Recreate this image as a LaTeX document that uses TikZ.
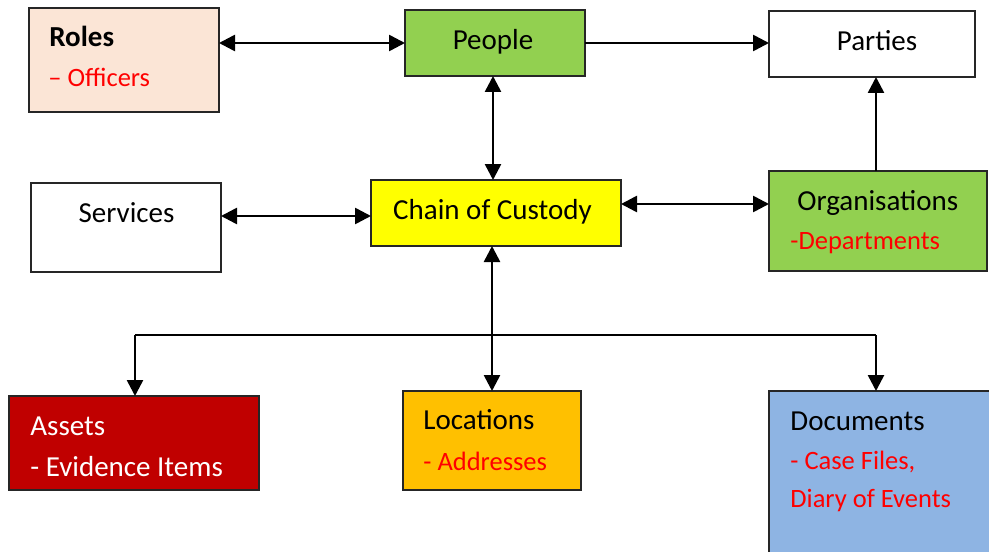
\documentclass[tikz,border=0pt]{standalone}
\usepackage{fontspec}
\setmainfont{Carlito}
\usetikzlibrary{arrows.meta}
\definecolor{peach}{HTML}{FBE5D6}
\definecolor{lgreen}{HTML}{92D050}
\definecolor{yel}{HTML}{FFFF00}
\definecolor{dred}{HTML}{C00000}
\definecolor{orng}{HTML}{FFC000}
\definecolor{lblue}{HTML}{8EB4E3}
\definecolor{txtred}{HTML}{FF0000}
\tikzset{
  box/.style={draw=black!85, line width=0.75pt, outer sep=0pt, inner sep=0pt},
  lbl/.style={anchor=base west, inner sep=0pt, font=\fontsize{14.5}{17}\selectfont},
  rlbl/.style={anchor=base west, inner sep=0pt, text=txtred, font=\fontsize{13.25}{16}\selectfont},
  clbl/.style={anchor=base, inner sep=0pt, font=\fontsize{14.5}{17}\selectfont},
  conn/.style={line width=1.3pt},
  arr/.style={conn, -{Triangle[length=8pt,width=8pt]}},
  biarr/.style={conn, {Triangle[length=8pt,width=8pt]}-{Triangle[length=8pt,width=8pt]}},
}
\begin{document}
\begin{tikzpicture}[x=0.5pt,y=-0.5pt]
\useasboundingbox (0,0) rectangle (989,551);
\clip (0,0) rectangle (989,551);
% boxes
\node[box, fill=peach, minimum width=95pt, minimum height=52pt] (roles) at (124,60) {};
\node[box, fill=lgreen, minimum width=90pt, minimum height=33pt] (people) at (495,43) {};
\node[box, fill=white, minimum width=103pt, minimum height=33pt] (parties) at (872,44) {};
\node[box, fill=white, minimum width=95pt, minimum height=44.5pt] (services) at (126,227.5) {};
\node[box, fill=yel, minimum width=125pt, minimum height=33pt] (chain) at (496,213) {};
\node[box, fill=lgreen, minimum width=109pt, minimum height=50pt] (orgs) at (878,221) {};
\node[box, fill=dred, minimum width=125pt, minimum height=47pt] (assets) at (134,443) {};
\node[box, fill=orng, minimum width=89pt, minimum height=49.5pt] (locations) at (492,440.5) {};
\node[box, fill=lblue, minimum width=115pt, minimum height=90pt] (documents) at (884,481) {};
% texts
\node[lbl, font=\fontsize{14.5}{17}\selectfont\bfseries] (tRoles) at (49,47) {Roles};
\node[rlbl] (tOfficers) at (48,87) {– Officers};
\node[clbl] (tPeople) at (493,50) {People};
\node[clbl] (tParties) at (877,51) {Parties};
\node[clbl] (tServices) at (126.5,222) {Services};
\node[clbl] (tChain) at (492.5,219) {Chain of Custody};
\node[lbl] (tOrgs) at (797,210) {Organisations};
\node[rlbl] (tDept) at (790,249) {-Departments};
\node[lbl, text=white] (tAssets) at (30,435) {Assets};
\node[lbl, text=white] (tEvid) at (30,476) {- Evidence Items};
\node[lbl] (tLoc) at (423,429) {Locations};
\node[rlbl] (tAddr) at (423,470) {- Addresses};
\node[lbl] (tDocs) at (790,430) {Documents};
\node[rlbl] (tCase) at (790,469) {- Case Files,};
\node[rlbl] (tDiary) at (790,507) {Diary of Events};
% connectors
\coordinate (busL) at (135,335);
\coordinate (busR) at (876,335);
\draw[biarr] (roles.east |- people.west) -- (people.west);
\draw[arr] (people.east) -- (parties.west |- people.east);
\draw[biarr] (people.south -| 493,0) -- (chain.north -| 493,0);
\draw[biarr] (services.east |- 0,216) -- (chain.west |- 0,216);
\draw[biarr] (chain.east |- 0,204) -- (orgs.west |- 0,204);
\draw[arr] (busR |- orgs.north) -- (busR |- parties.south);
\draw[biarr] (locations.north |- chain.south) -- (locations.north);
\draw[line width=1pt] (busL) -- (busR);
\draw[arr] (busL) -- (busL |- assets.north);
\draw[arr] (busR) -- (busR |- documents.north);
\end{tikzpicture}
\end{document}
